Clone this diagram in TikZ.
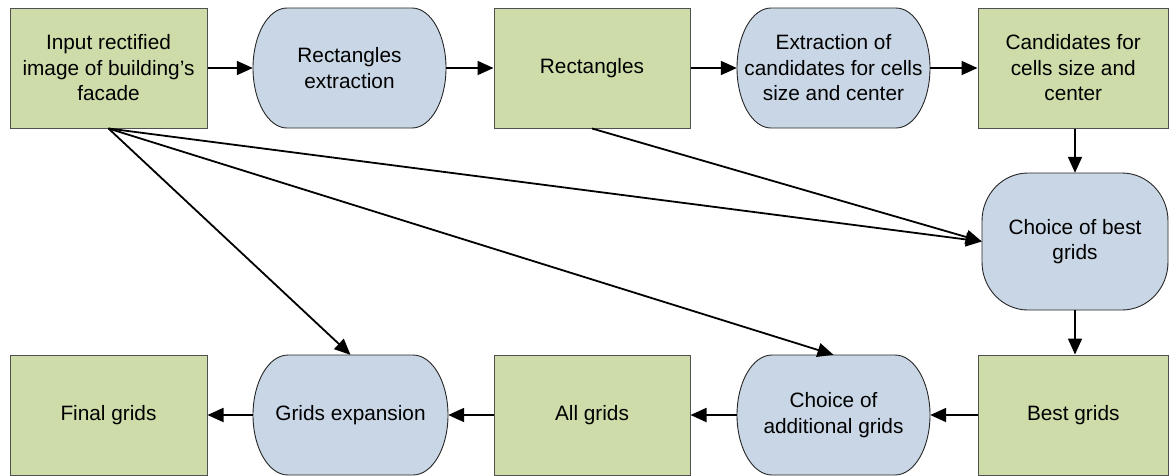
\documentclass[tikz,border=0pt]{standalone}
\usepackage{fontspec}
\setmainfont{Liberation Sans}
\usetikzlibrary{arrows.meta}

\definecolor{boxgreen}{RGB}{205,220,169}
\definecolor{procblue}{RGB}{201,214,229}
\definecolor{boxedge}{RGB}{80,80,80}

\tikzset{
  label text/.style={align=center, inner sep=0pt,
    font=\fontsize{20.8}{25.5}\selectfont},
  databox/.style={label text, rectangle, fill=boxgreen, draw=boxedge,
    line width=1pt},
  procshape/.style={fill=procblue, draw=black!85, line width=0.9pt},
  flow/.style={line width=1.8pt, -{Triangle[length=16pt,width=14pt]}},
}

% Data box: name, x1, y1, x2, y2, text
\newcommand\databox[6]{%
  \node[databox, minimum width={(#4)-(#2)}, minimum height={(#5)-(#3)}]
    (#1) at ({((#2)+(#4))/2},{((#3)+(#5))/2}) {#6};}

% Process shape with elliptic corners: name, x1, y1, x2, y2, rx, ry, text
\newcommand\procbox[8]{%
  \filldraw[procshape] ({#2+#6},#3) -- ({#4-#6},#3)
    arc[start angle=270, end angle=360, x radius=#6, y radius=#7]
    -- (#4,{#5-#7})
    arc[start angle=0, end angle=90, x radius=#6, y radius=#7]
    -- ({#2+#6},#5)
    arc[start angle=90, end angle=180, x radius=#6, y radius=#7]
    -- (#2,{#3+#7})
    arc[start angle=180, end angle=270, x radius=#6, y radius=#7]
    -- cycle;
  \node[label text, rectangle, minimum width={(#4)-(#2)}, minimum height={(#5)-(#3)}]
    (#1) at ({((#2)+(#4))/2},{((#3)+(#5))/2}) {#8};}

\begin{document}
\begin{tikzpicture}[x=1pt, y=-1pt]
\useasboundingbox (0,0) rectangle (1169,475);

% top row
\databox{input}{10}{8}{207}{128}{Input rectified\\image of building’s\\facade}
\procbox{rectext}{253}{8}{446}{128}{34}{60}{Rectangles\\extraction}
\databox{rects}{494}{8}{690}{128}{Rectangles}
\procbox{candext}{737}{8}{930}{128}{34}{60}{Extraction of\\candidates for cells\\size and center}
\databox{cands}{978}{8}{1168.5}{128}{Candidates for\\cells size and\\center}

% right column
\procbox{bestchoice}{982}{173}{1168}{310}{46}{48}{Choice of best\\grids}

% bottom row
\databox{best}{978}{355}{1168.5}{475}{Best grids}
\procbox{addchoice}{737}{355}{930}{475}{35}{60}{Choice of\\additional grids}
\databox{all}{494}{355}{690}{475}{All grids}
\procbox{expand}{253}{355}{448}{475}{35}{60}{Grids expansion}
\databox{final}{10}{355}{207}{475}{Final grids}

% main flow
\draw[flow] (input.east) -- (rectext.west);
\draw[flow] (rectext.east) -- (rects.west);
\draw[flow] (rects.east) -- (candext.west);
\draw[flow] (candext.east) -- (cands.west);
\draw[flow] (cands.south -| bestchoice.north) -- (bestchoice.north);
\draw[flow] (bestchoice.south) -- (bestchoice.south |- best.north);
\draw[flow] (best.west) -- (addchoice.east);
\draw[flow] (addchoice.west) -- (all.east);
\draw[flow] (all.west) -- (expand.east);
\draw[flow] (expand.west) -- (final.east);

% inputs feeding later stages
\draw[flow] (input.south) -- (bestchoice.west);
\draw[flow] (rects.south) -- (bestchoice.west);
\draw[flow] (input.south) -- (addchoice.north);
\draw[flow] (input.south) -- (expand.north);
\end{tikzpicture}
\end{document}
